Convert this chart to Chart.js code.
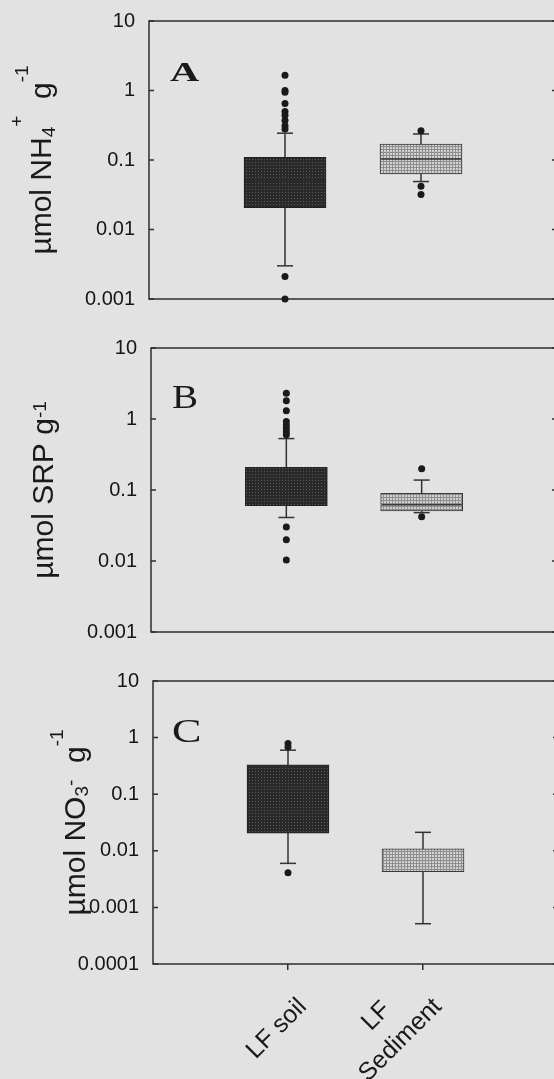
<!DOCTYPE html>
<html>
<head>
<meta charset="utf-8">
<script src="https://cdn.jsdelivr.net/npm/chart.js@4.4.0/dist/chart.umd.min.js"></script>
<style>
  html, body { margin: 0; padding: 0; background: #e2e2e2; overflow: hidden; width: 554px; height: 1079px; }
  canvas { position: absolute; left: 0; }
</style>
</head>
<body>
<canvas id="panelA" width="600" height="330" style="top:0"></canvas>
<canvas id="panelB" width="600" height="330" style="top:330px"></canvas>
<canvas id="panelC" width="600" height="419" style="top:660px"></canvas>
<script>
const categories = ['LF soil', ['LF', 'Sediment']];

const tickValuesAB = [0.001, 0.01, 0.1, 1, 10];
const tickLabelsAB = ['0.001', '0.01', '0.1', '1', '10'];
const tickValuesC = [0.0001, 0.001, 0.01, 0.1, 1, 10];
const tickLabelsC = ['0.0001', '0.001', '0.01', '0.1', '1', '10'];

// A: NH4+
const nh4WhiskerLow = [0.003, 0.049];
const nh4Q1 = [0.0206, 0.063];
const nh4Median = [0.05, 0.103];
const nh4Q3 = [0.109, 0.17];
const nh4WhiskerHigh = [0.243, 0.237];
const nh4Outliers = [
    [1.66, 1.0, 0.94, 0.65, 0.5, 0.44, 0.37, 0.31, 0.28, 0.0021, 0.001],
    [0.264, 0.042, 0.032]
];

// B: SRP
const srpWhiskerLow = [0.041, 0.048];
const srpQ1 = [0.06, 0.0506];
const srpMedian = [0.088, 0.062];
const srpQ3 = [0.209, 0.09];
const srpWhiskerHigh = [0.53, 0.138];
const srpOutliers = [
    [2.3, 1.81, 1.31, 0.92, 0.82, 0.74, 0.66, 0.6, 0.03, 0.02, 0.0103],
    [0.2, 0.042]
];

// C: NO3-
const no3WhiskerLow = [0.006, 0.000515];
const no3Q1 = [0.0204, 0.0043];
const no3Median = [0.08, 0.0065];
const no3Q3 = [0.33, 0.0108];
const no3WhiskerHigh = [0.6, 0.0212];
const no3Outliers = [[0.79, 0.68, 0.0041], []];

const SANS = "'Liberation Sans', Arial, sans-serif";
const SERIF = "'Liberation Serif', 'Times New Roman', serif";

function makePattern(bg, dot, size, dotSize) {
    const c = document.createElement('canvas');
    c.width = size; c.height = size;
    const g = c.getContext('2d');
    g.fillStyle = bg;
    g.fillRect(0, 0, size, size);
    g.fillStyle = dot;
    g.fillRect(0, 0, dotSize, dotSize);
    return g.createPattern(c, 'repeat');
}

const soilFill = makePattern('#2a2a2a', '#585858', 3, 1);
const sedimentFill = makePattern('#8e8e8e', '#d2d2d2', 3, 2);

// frame, inward ticks, panel letter, y title and slanted category labels
const panelDecor = {
    id: 'panelDecor',
    beforeDatasetsDraw(chart) {
        const {ctx, chartArea: a, scales: {y}} = chart;
        ctx.save();
        ctx.strokeStyle = '#2e2e2e';
        ctx.lineWidth = 1.5;
        ctx.strokeRect(a.left, a.top, a.right - a.left, a.bottom - a.top);
        ctx.beginPath();
        y.ticks.forEach(t => {
            const py = y.getPixelForValue(t.value);
            ctx.moveTo(a.left, py); ctx.lineTo(a.left + 5, py);
            ctx.moveTo(a.right, py); ctx.lineTo(a.right - 5, py);
        });
        ctx.stroke();
        ctx.restore();
    },
    afterDraw(chart, args, opts) {
        const {ctx, chartArea: a, scales: {x}} = chart;
        ctx.save();
        ctx.fillStyle = '#1a1a1a';

        const L = opts.letter;
        ctx.save();
        ctx.translate(L.x, L.y);
        ctx.scale(L.sx, 1);
        ctx.font = L.font;
        ctx.textBaseline = 'alphabetic';
        ctx.fillText(L.text, 0, 0);
        ctx.restore();

        if (opts.xLabels) {
            ctx.font = '25px ' + SANS;
            ctx.textAlign = 'center';
            ctx.textBaseline = 'middle';
            categories.forEach((c, i) => {
                const lines = Array.isArray(c) ? c : [c];
                const maxW = Math.max(...lines.map(s => ctx.measureText(s).width));
                ctx.save();
                ctx.translate(x.getPixelForValue(i + 1), a.bottom);
                ctx.rotate(-Math.PI / 4);
                lines.forEach((s, j) => {
                    ctx.fillText(s, -17 - maxW / 2, 38 - (lines.length - 1 - j) * 34);
                });
                ctx.restore();
            });
            ctx.textAlign = 'left';
        }

        const T = opts.title;
        ctx.translate(T.x, (a.top + a.bottom) / 2);
        ctx.rotate(-Math.PI / 2);
        ctx.textBaseline = 'alphabetic';
        const fontFor = k => (k === 'n' ? '30px ' : '19px ') + SANS;
        let total = 0;
        T.parts.forEach(([s, k]) => { ctx.font = fontFor(k); total += ctx.measureText(s).width; });
        let cx = -total / 2;
        T.parts.forEach(([s, k, dy]) => {
            ctx.font = fontFor(k);
            ctx.fillText(s, cx, dy || 0);
            cx += ctx.measureText(s).width;
        });
        ctx.restore();
    }
};

function buildPanel(id, d) {
    const whisker = [];
    const caps = [];
    d.low.forEach((v, i) => {
        if (i > 0) whisker.push({x: i + 0.5, y: null});
        whisker.push({x: i + 1, y: d.low[i]}, {x: i + 1, y: d.high[i]});
        caps.push({x: i + 1, y: d.low[i]}, {x: i + 1, y: d.high[i]});
    });
    const boxes = d.q1.map((v, i) => ({x: i + 1, y: [d.q1[i], d.q3[i]]}));
    const medians = d.median.map((v, i) => ({x: i + 1, y: v}));
    const outliers = [];
    d.outliers.forEach((list, i) => list.forEach(v => outliers.push({x: i + 1, y: v})));

    return new Chart(document.getElementById(id), {
        type: 'bar',
        data: {
            datasets: [
                {
                    type: 'line', data: whisker, order: 4,
                    borderColor: '#333', borderWidth: 1.5, pointRadius: 0, spanGaps: false
                },
                {
                    type: 'scatter', data: caps, order: 3,
                    pointStyle: 'line', pointRadius: 8,
                    pointBorderColor: '#333', pointBorderWidth: 1.5
                },
                {
                    type: 'bar', data: boxes, order: 2,
                    backgroundColor: [soilFill, sedimentFill],
                    borderColor: ['#222', '#3a3a3a'], borderWidth: 1,
                    borderSkipped: false, barThickness: 82
                },
                {
                    type: 'scatter', data: medians, order: 1,
                    pointStyle: 'line', pointRadius: 40,
                    pointBorderColor: d.medianColors, pointBorderWidth: 1.5
                },
                {
                    type: 'scatter', data: outliers, order: 0, clip: false,
                    pointStyle: 'circle', pointRadius: 3.5,
                    pointBackgroundColor: '#1a1a1a', pointBorderWidth: 0
                }
            ]
        },
        options: {
            responsive: false,
            animation: false,
            events: [],
            layout: {autoPadding: false, padding: d.padding},
            plugins: {
                legend: {display: false},
                tooltip: {enabled: false},
                panelDecor: {letter: d.letter, title: d.title, xLabels: d.showX}
            },
            scales: {
                x: {
                    type: 'linear', min: 0, max: 3, offset: false,
                    display: d.showX,
                    border: {display: false},
                    grid: {display: true, drawOnChartArea: false, drawTicks: true, tickLength: 6, color: '#2e2e2e', lineWidth: 1.5, offset: false},
                    afterBuildTicks: axis => { axis.ticks = categories.map((c, i) => ({value: i + 1})); },
                    afterFit: axis => { axis.height = d.xHeight; axis.paddingLeft = 0; axis.paddingRight = 0; },
                    ticks: {display: false, autoSkip: false, maxRotation: 0}
                },
                y: {
                    type: 'logarithmic', min: d.tickValues[0], max: d.tickValues[d.tickValues.length - 1],
                    border: {display: false},
                    grid: {display: false, drawTicks: false},
                    afterBuildTicks: axis => { axis.ticks = d.tickValues.map(v => ({value: v})); },
                    afterFit: axis => { axis.width = d.yWidth; axis.paddingTop = 0; axis.paddingBottom = 0; },
                    ticks: {
                        padding: 14, color: '#151515', font: {family: SANS, size: 20},
                        callback: v => d.tickLabels[d.tickValues.indexOf(v)]
                    }
                }
            }
        },
        plugins: [panelDecor]
    });
}

buildPanel('panelA', {
    low: nh4WhiskerLow, q1: nh4Q1, median: nh4Median, q3: nh4Q3, high: nh4WhiskerHigh, outliers: nh4Outliers,
    medianColors: ['#2a2a2a', '#333'],
    tickValues: tickValuesAB, tickLabels: tickLabelsAB,
    showX: false, xHeight: 0, yWidth: 149,
    padding: {left: 0, top: 21, right: 43, bottom: 31},
    letter: {text: 'A', x: 170, y: 81, sx: 1.5, font: 'bold 27px ' + SERIF},
    title: {x: 51, parts: [['µmol NH', 'n'], ['4', 's', 4], ['+', 'p', -28], ['  g', 'n'], ['-1', 'p', -23]]}
});

buildPanel('panelB', {
    low: srpWhiskerLow, q1: srpQ1, median: srpMedian, q3: srpQ3, high: srpWhiskerHigh, outliers: srpOutliers,
    medianColors: ['#2a2a2a', '#3a3a3a'],
    tickValues: tickValuesAB, tickLabels: tickLabelsAB,
    showX: false, xHeight: 0, yWidth: 151,
    padding: {left: 0, top: 18, right: 43, bottom: 28},
    letter: {text: 'B', x: 172, y: 78, sx: 1.15, font: '34px ' + SERIF},
    title: {x: 53, parts: [['µmol SRP g', 'n'], ['-1', 'p', -7]]}
});

buildPanel('panelC', {
    low: no3WhiskerLow, q1: no3Q1, median: no3Median, q3: no3Q3, high: no3WhiskerHigh, outliers: no3Outliers,
    medianColors: ['#2a2a2a', 'rgba(0,0,0,0)'],
    tickValues: tickValuesC, tickLabels: tickLabelsC,
    showX: true, xHeight: 115, yWidth: 153,
    padding: {left: 0, top: 21, right: 42, bottom: 0},
    letter: {text: 'C', x: 172, y: 82, sx: 1.3, font: '34px ' + SERIF},
    title: {x: 85, parts: [['µmol NO', 'n'], ['3', 's', 3], ['-', 'p', -8], ['  g', 'n'], ['-1', 'p', -22]]}
});
</script>
</body>
</html>
